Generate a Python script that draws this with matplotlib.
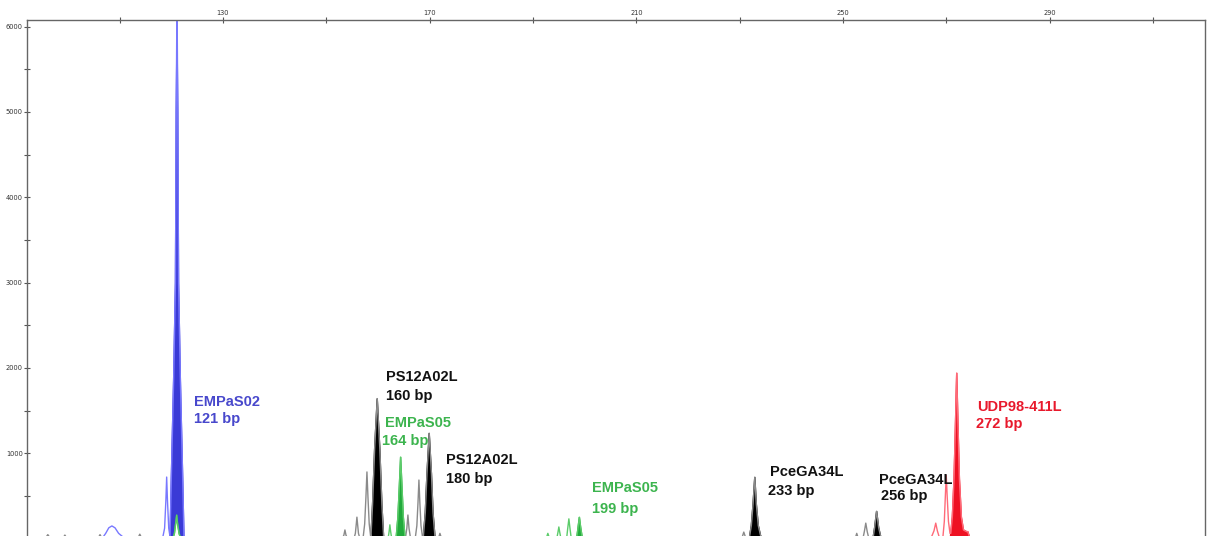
import matplotlib
matplotlib.use("Agg")
import matplotlib.pyplot as plt
from matplotlib.ticker import FixedLocator

# ---- traces (size in bp, signal in RFU) ----
# blue dye: outline trace
blue_bp = [92, 106.6, 107.3, 107.9, 108.5, 109.1, 109.8, 110.8, 112.0,
           118.3, 118.7, 118.95, 119.1, 119.25, 119.5, 119.75,
           120.0, 120.45, 120.8, 120.95, 121.1, 121.25, 121.4, 121.75, 122.2, 122.45, 320]
blue_rfu = [0, 0, 60, 125, 147, 125, 60, 10, 0,
            0, 120, 450, 720, 450, 120, 20,
            700, 1860, 3000, 5000, 6400, 5000, 3000, 1860, 700, 0, 0]
# blue called peak (filled)
blue_fill_bp = [119.75, 120.0, 120.45, 120.8, 120.95, 121.1, 121.25, 121.4, 121.75, 122.2, 122.45]
blue_fill_rfu = [0, 700, 1860, 3000, 5000, 5926, 5000, 3000, 1860, 700, 0]

# green dye
green_bp = [92, 120.3, 120.6, 120.85, 121.04, 121.2, 121.5, 121.8,
            161.95, 162.15, 162.3, 162.45, 162.65,
            163.5, 163.85, 164.12, 164.38, 164.64, 164.9, 165.25,
            192.55, 192.87, 193.2, 194.6, 194.82, 195.0, 195.18, 195.4,
            196.5, 196.72, 196.94, 197.15, 197.4,
            198.45, 198.72, 198.97, 199.22, 199.55, 320]
green_rfu = [0, 0, 60, 180, 275, 180, 60, 0,
             0, 80, 160, 80, 0,
             0, 250, 600, 955, 600, 250, 0,
             0, 60, 0, 0, 70, 135, 70, 0,
             0, 120, 230, 120, 0,
             0, 130, 250, 130, 0, 0]
green_fill1_bp = [163.5, 163.85, 164.12, 164.38, 164.64, 164.9, 165.25]
green_fill1_rfu = [0, 250, 600, 955, 600, 250, 0]
green_fill2_bp = [198.45, 198.72, 198.97, 199.22, 199.55]
green_fill2_rfu = [0, 130, 250, 130, 0]

# black dye
black_bp = [92, 95.6, 96.1, 96.6, 99.0, 99.4, 99.8, 105.8, 106.2, 106.6, 113.5, 113.9, 114.3,
            153.1, 153.4, 153.6, 153.8, 154.1,
            155.35, 155.62, 155.78, 155.92, 156.06, 156.22, 156.5,
            157.1, 157.42, 157.66, 157.86, 158.06, 158.3, 158.62,
            158.62, 158.95, 159.35, 159.85, 160.35, 160.75, 161.1,
            165.3, 165.58, 165.79, 166.0, 166.3,
            167.2, 167.52, 167.74, 167.92, 168.1, 168.32, 168.65,
            168.75, 169.15, 169.48, 169.91, 170.34, 170.65, 171.05,
            171.7, 171.98, 172.3,
            230.4, 230.79, 231.2,
            231.85, 232.25, 232.58, 232.92, 233.22, 233.6, 234.05, 234.5,
            252.35, 252.65, 252.95,
            253.85, 254.12, 254.4, 254.68, 255.0,
            255.8, 256.12, 256.5, 256.88, 257.25, 257.55, 320]
black_rfu = [0, 0, 45, 0, 0, 40, 0, 0, 45, 0, 0, 50, 0,
             0, 40, 100, 40, 0,
             0, 60, 160, 250, 160, 60, 0,
             0, 170, 480, 780, 480, 170, 0,
             0, 400, 1050, 1640, 1050, 400, 0,
             0, 120, 275, 120, 0,
             0, 150, 420, 685, 420, 150, 0,
             0, 300, 760, 1235, 760, 300, 0,
             0, 60, 0,
             0, 75, 0,
             0, 150, 400, 720, 400, 150, 30, 0,
             0, 60, 0,
             0, 80, 180, 80, 0,
             0, 130, 320, 130, 30, 0, 0]
black_fill = [
    ([158.62, 158.95, 159.35, 159.85, 160.35, 160.75, 161.1], [0, 400, 1050, 1640, 1050, 400, 0]),
    ([168.75, 169.15, 169.48, 169.91, 170.34, 170.65, 171.05], [0, 300, 760, 1235, 760, 300, 0]),
    ([231.85, 232.25, 232.58, 232.92, 233.22, 233.6, 234.05, 234.5], [0, 150, 400, 720, 400, 150, 30, 0]),
    ([255.8, 256.12, 256.5, 256.88, 257.25, 257.55], [0, 130, 320, 130, 30, 0]),
]

# red dye
red_bp = [92, 266.8, 267.2, 267.6, 267.94, 268.25, 268.6,
          269.3, 269.6, 269.8, 269.97, 270.15, 270.4, 270.7,
          270.85, 271.15, 271.48, 271.74, 272.0, 272.26, 272.52, 272.9, 273.3, 273.9, 274.13, 274.3, 274.6, 320]
red_rfu = [0, 0, 30, 90, 180, 90, 20,
           0, 200, 500, 740, 500, 200, 60,
           60, 250, 700, 1300, 1940, 1300, 700, 250, 100, 80, 80, 50, 0, 0]
red_fill_bp = [270.75, 271.15, 271.48, 271.74, 272.0, 272.26, 272.52, 272.9, 273.3, 273.9, 274.13, 274.3, 274.6]
red_fill_rfu = [0, 250, 700, 1300, 1940, 1300, 700, 250, 100, 80, 80, 50, 0]

# allele calls
markers = ["EMPaS02", "PS12A02L", "EMPaS05", "PS12A02L", "EMPaS05", "PceGA34L", "PceGA34L", "UDP98-411L"]
sizes = ["121 bp", "160 bp", "164 bp", "180 bp", "199 bp", "233 bp", "256 bp", "272 bp"]
label_colors = ["#4848cc", "#111111", "#3cb44e", "#111111", "#3cb44e", "#111111", "#111111", "#e8192c"]
# label anchors (bp, rfu) for the name line and the size line
name_pos = [(124.3, 1600), (161.6, 1893), (161.4, 1354), (173.2, 920),
            (201.5, 592), (235.9, 780), (257.0, 686), (276.0, 1542)]
size_pos = [(124.3, 1401), (161.6, 1671), (160.7, 1143), (173.2, 698),
            (201.5, 346), (235.5, 557), (257.4, 498), (275.8, 1342)]

fig = plt.figure(figsize=(12.13, 5.36), dpi=100)
ax = fig.add_axes([27 / 1213, 0, (1205 - 27) / 1213, (536 - 20) / 536])

# outlines
ax.plot(black_bp, black_rfu, color="#8a8a8a", lw=1.0)
ax.plot(green_bp, green_rfu, color="#5ccc6a", lw=1.0)
ax.plot(red_bp, red_rfu, color="#ff6a78", lw=1.0)
ax.plot(blue_bp, blue_rfu, color="#7878ff", lw=1.0)

# called peaks
ax.fill(blue_fill_bp, blue_fill_rfu, color="#3a3ad6", lw=1.0)
for xs, ys in black_fill:
    ax.fill(xs, ys, color="black", lw=1.0)
ax.fill(green_fill1_bp, green_fill1_rfu, color="#22aa3c", lw=1.0)
ax.fill(green_fill2_bp, green_fill2_rfu, color="#22aa3c", lw=1.0)
ax.fill(red_fill_bp, red_fill_rfu, color="#ee1122", lw=1.0)
# small green peak sitting inside the blue one
ax.fill(green_bp[1:8], green_rfu[1:8], facecolor="white", edgecolor="#33bb44", lw=1.0)

for name, size, col, p1, p2 in zip(markers, sizes, label_colors, name_pos, size_pos):
    ax.text(p1[0], p1[1], name, color=col, fontsize=10.5, fontweight="bold",
            family="Liberation Sans", ha="left", va="center")
    ax.text(p2[0], p2[1], size, color=col, fontsize=10.5, fontweight="bold",
            family="Liberation Sans", ha="left", va="center")

ax.set_xlim(92.07, 320.05)
ax.set_ylim(29, 6078)

ax.xaxis.tick_top()
ax.xaxis.set_major_locator(FixedLocator([130, 170, 210, 250, 290]))
ax.xaxis.set_minor_locator(FixedLocator([110, 150, 190, 230, 270, 310]))
ax.yaxis.set_major_locator(FixedLocator([1000, 2000, 3000, 4000, 5000, 6000]))
ax.yaxis.set_minor_locator(FixedLocator([500, 1500, 2500, 3500, 4500, 5500]))
ax.tick_params(which="both", direction="inout", length=4, width=0.8, color="#555555",
               labelsize=4.8, labelcolor="#333333", pad=1)
ax.tick_params(axis="y", which="both", right=False)
for s in ["top", "left", "right"]:
    ax.spines[s].set_color("#666666")
    ax.spines[s].set_linewidth(1.0)
ax.spines["bottom"].set_visible(False)

fig.savefig("out.png", dpi=100)
